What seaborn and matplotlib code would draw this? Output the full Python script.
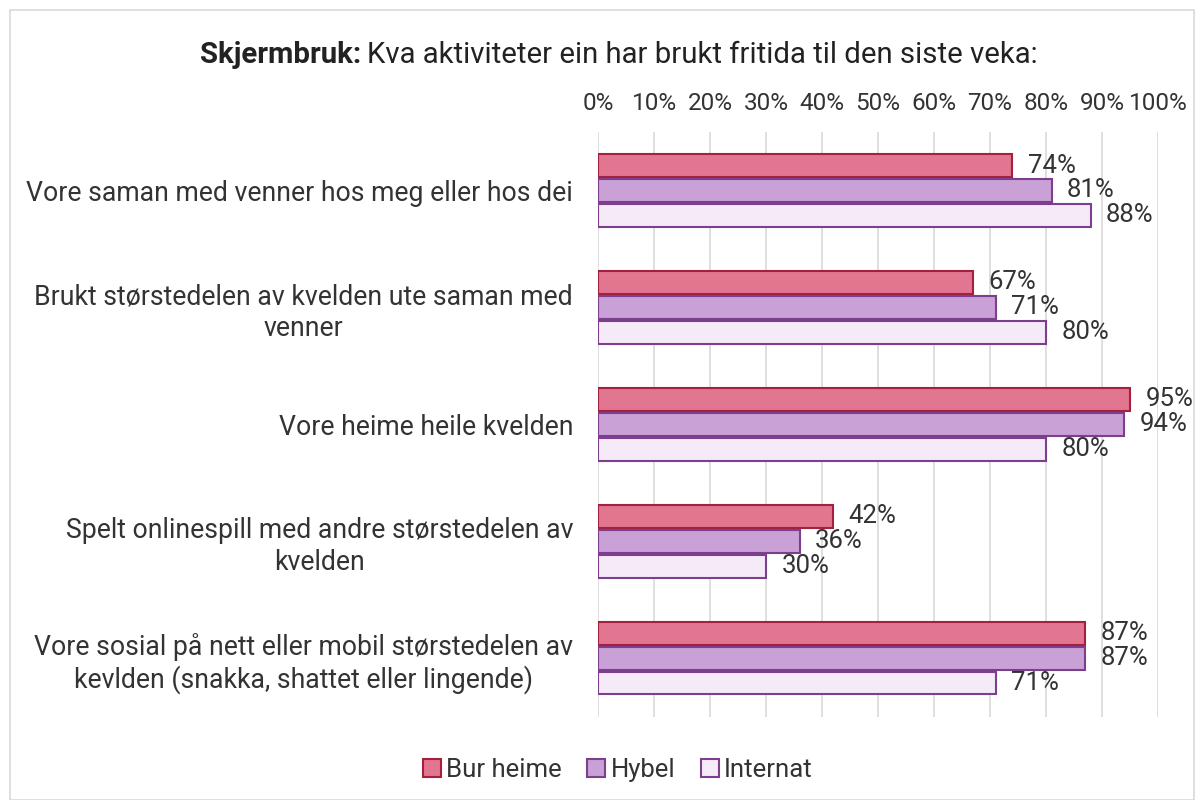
import matplotlib
matplotlib.use("Agg")
import matplotlib.pyplot as plt
import pandas as pd
import seaborn as sns
from matplotlib.patches import Patch, Rectangle

# =========================
# Data
# =========================
categories = [
    "Vore saman med venner hos meg eller hos dei",
    "Brukt størstedelen av kvelden ute saman med\nvenner",
    "Vore heime heile kvelden",
    "Spelt onlinespill med andre størstedelen av\nkvelden",
    "Vore sosial på nett eller mobil størstedelen av\nkevlden (snakka, shattet eller lingende)",
]
groups = ["Bur heime", "Hybel", "Internat"]
bur_heime = [74, 67, 95, 42, 87]
hybel = [81, 71, 94, 36, 87]
internat = [88, 80, 80, 30, 71]
x_ticks = list(range(0, 101, 10))

face_colors = ["#E2758F", "#C9A1D6", "#F4EAF8"]
edge_colors = ["#A3203F", "#7D3E8E", "#7D3E8E"]

df = pd.DataFrame({
    "category": categories * 3,
    "group": [g for g in groups for _ in categories],
    "value": bur_heime + hybel + internat,
})

# =========================
# Plot
# =========================
sns.set_theme(style="white")
plt.rcParams["font.family"] = ["Roboto", "DejaVu Sans"]

fig = plt.figure(figsize=(12.04, 8), dpi=100)
ax = fig.add_axes([0.4967, 0.104, 0.4651, 0.731])

sns.barplot(
    data=df, y="category", x="value", hue="group",
    order=categories, hue_order=groups,
    palette=face_colors, saturation=1, width=0.64, gap=0.1,
    orient="h", legend=False, ax=ax,
)

for i, cont in enumerate(ax.containers):
    for bar in cont:
        bar.set_edgecolor(edge_colors[i])
        bar.set_linewidth(1.5)
    ax.bar_label(cont, labels=[f"{v:.0f}%" for v in cont.datavalues],
                 padding=11, fontsize=18.5, color="#333333")

ax.set_xlim(0, 100)
ax.set_xticks(x_ticks)
ax.set_xticklabels([f"{t}%" for t in x_ticks], fontsize=17.5, color="#333333")
ax.xaxis.tick_top()
ax.tick_params(axis="x", length=0, pad=12)
ax.tick_params(axis="y", length=0, pad=18, labelsize=19.2, labelcolor="#333333")
for t in ax.get_yticklabels():
    t.set_multialignment("center")
ax.grid(axis="x", color="#D9D9D9", linewidth=1.2)
ax.set_axisbelow(True)
for s in ax.spines.values():
    s.set_visible(False)
ax.set_xlabel("")
ax.set_ylabel("")

# title: bold part + normal part
fig.canvas.draw()
renderer = fig.canvas.get_renderer()
bold = fig.text(0.166, 0.931, "Skjermbruk:", fontsize=21.2, fontweight="bold",
                color="#222222", va="center")
bb = bold.get_window_extent(renderer=renderer)
x_next = (bb.x1 + 6) / fig.bbox.width
fig.text(x_next, 0.931, "Kva aktiviteter ein har brukt fritida til den siste veka:",
         fontsize=21.2, color="#222222", va="center")

handles = [Patch(facecolor=face_colors[i], edgecolor=edge_colors[i], linewidth=1.5, label=g)
           for i, g in enumerate(groups)]
fig.legend(handles=handles, loc="center", bbox_to_anchor=(0.513, 0.038), ncol=3,
           frameon=False, fontsize=18.5, handlelength=0.7, handleheight=0.7,
           handletextpad=0.2, columnspacing=1.0, labelcolor="#333333")

fig.patches.append(Rectangle((0.008, 0.0), 0.984, 0.987, transform=fig.transFigure,
                             fill=False, edgecolor="#D9D9D9", linewidth=1.2))

fig.savefig("out.png", dpi=100)
